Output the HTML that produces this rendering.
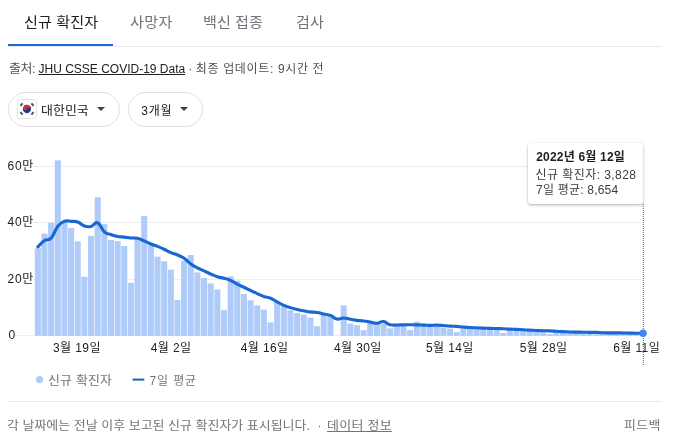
<!DOCTYPE html>
<html lang="ko"><head><meta charset="utf-8"><title>COVID-19</title>
<style>
html,body{margin:0;padding:0;background:#fff;}
body{width:684px;height:438px;position:relative;overflow:hidden;font-family:'Liberation Sans','Noto Sans CJK KR',sans-serif;color:#202124;}
.abs{position:absolute;white-space:nowrap;}
.t{position:absolute;white-space:nowrap;line-height:40px;}
.ul{left:8px;top:44px;width:105px;height:2px;background:#1a69d4;}
.hr{left:8px;height:1px;background:#e8eaed;width:654px;}
.pill{top:92px;height:33px;border:1px solid #e0e0e0;border-radius:18px;box-sizing:content-box;}
.arrow{position:absolute;width:0;height:0;border-left:4.2px solid transparent;border-right:4.2px solid transparent;border-top:4.5px solid #3c4043;top:107px;}
.tip{left:528px;top:143px;width:115px;height:60.5px;background:#fff;border-radius:3px;box-shadow:0 1px 3px rgba(0,0,0,.32);}
</style></head><body>
<div class="abs ul"></div>
<div class="abs hr" style="top:46px"></div>
<div class="t" style="left:188.5px;top:48.7px;font-size:12px;color:#4d5156">·</div>
<div class="abs pill" style="left:8px;width:110px"></div>
<div class="abs pill" style="left:128px;width:73px"></div>
<svg class="abs" style="left:17px;top:99px" width="20" height="20" viewBox="0 0 20 20"><rect x="0.5" y="0.5" width="19" height="19" rx="2" fill="#fff" stroke="#e4e4e4"/><g transform="rotate(25 10 10)"><circle cx="10" cy="10" r="4" fill="#0f4095"/><path d="M6 10a4 4 0 0 1 8 0a2 2 0 0 0 -4 0a2 2 0 0 1 -4 0z" fill="#cd2e3a"/></g><g stroke="#555" stroke-width="2"><path d="M3.4 6.9l2.2-2.6M3.4 13.1l2.2 2.6M16.6 6.9l-2.2-2.6M16.6 13.1l-2.2 2.6"/></g></svg>
<i class="arrow" style="left:96.8px"></i>
<i class="arrow" style="left:179.5px"></i>
<svg class="abs" style="left:0;top:0" width="684" height="438" viewBox="0 0 684 438">
<g stroke="#eeeeee" stroke-width="1"><line x1="33.5" x2="643" y1="166.5" y2="166.5"/><line x1="33.5" x2="643" y1="222.5" y2="222.5"/><line x1="33.5" x2="643" y1="279.5" y2="279.5"/><line x1="14.5" x2="643" y1="335.5" y2="335.5"/></g>
<g fill="#aecbfa"><rect x="34.83" y="248.38" width="6.05" height="87.52"/><rect x="41.47" y="233.54" width="6.05" height="102.36"/><rect x="48.12" y="222.69" width="6.05" height="113.21"/><rect x="54.77" y="160.37" width="6.05" height="175.53"/><rect x="61.42" y="220.92" width="6.05" height="114.98"/><rect x="68.06" y="228.14" width="6.05" height="107.76"/><rect x="74.71" y="241.34" width="6.05" height="94.56"/><rect x="81.36" y="276.81" width="6.05" height="59.09"/><rect x="88.01" y="235.90" width="6.05" height="100.00"/><rect x="94.66" y="197.23" width="6.05" height="138.67"/><rect x="101.30" y="224.14" width="6.05" height="111.76"/><rect x="107.95" y="239.99" width="6.05" height="95.91"/><rect x="114.60" y="241.10" width="6.05" height="94.80"/><rect x="121.25" y="246.03" width="6.05" height="89.87"/><rect x="127.90" y="283.01" width="6.05" height="52.89"/><rect x="134.54" y="237.72" width="6.05" height="98.18"/><rect x="141.19" y="215.94" width="6.05" height="119.96"/><rect x="147.84" y="245.29" width="6.05" height="90.61"/><rect x="154.49" y="256.72" width="6.05" height="79.18"/><rect x="161.14" y="261.27" width="6.05" height="74.63"/><rect x="167.78" y="269.71" width="6.05" height="66.19"/><rect x="174.43" y="299.97" width="6.05" height="35.93"/><rect x="181.08" y="260.72" width="6.05" height="75.18"/><rect x="187.73" y="255.02" width="6.05" height="80.88"/><rect x="194.38" y="272.39" width="6.05" height="63.51"/><rect x="201.02" y="277.89" width="6.05" height="58.01"/><rect x="207.67" y="283.48" width="6.05" height="52.42"/><rect x="214.32" y="289.43" width="6.05" height="46.47"/><rect x="220.97" y="310.21" width="6.05" height="25.69"/><rect x="227.62" y="276.36" width="6.05" height="59.54"/><rect x="234.26" y="280.69" width="6.05" height="55.21"/><rect x="240.91" y="293.96" width="6.05" height="41.94"/><rect x="247.56" y="300.35" width="6.05" height="35.55"/><rect x="254.21" y="305.41" width="6.05" height="30.49"/><rect x="260.86" y="309.63" width="6.05" height="26.27"/><rect x="267.50" y="322.41" width="6.05" height="13.49"/><rect x="274.15" y="302.42" width="6.05" height="33.48"/><rect x="280.80" y="304.45" width="6.05" height="31.45"/><rect x="287.45" y="310.23" width="6.05" height="25.67"/><rect x="294.10" y="313.00" width="6.05" height="22.90"/><rect x="300.75" y="314.59" width="6.05" height="21.31"/><rect x="307.39" y="317.62" width="6.05" height="18.28"/><rect x="314.04" y="326.19" width="6.05" height="9.71"/><rect x="320.69" y="313.20" width="6.05" height="22.70"/><rect x="327.34" y="314.21" width="6.05" height="21.69"/><rect x="340.63" y="305.38" width="6.05" height="30.52"/><rect x="347.28" y="323.67" width="6.05" height="12.23"/><rect x="353.93" y="325.23" width="6.05" height="10.67"/><rect x="360.58" y="330.23" width="6.05" height="5.67"/><rect x="367.23" y="321.46" width="6.05" height="14.44"/><rect x="373.87" y="322.04" width="6.05" height="13.86"/><rect x="380.52" y="323.95" width="6.05" height="11.95"/><rect x="387.17" y="328.35" width="6.05" height="7.55"/><rect x="393.82" y="324.71" width="6.05" height="11.19"/><rect x="400.47" y="324.58" width="6.05" height="11.32"/><rect x="407.11" y="330.08" width="6.05" height="5.82"/><rect x="413.76" y="321.79" width="6.05" height="14.11"/><rect x="420.41" y="323.49" width="6.05" height="12.41"/><rect x="427.06" y="325.76" width="6.05" height="10.14"/><rect x="433.71" y="326.73" width="6.05" height="9.17"/><rect x="440.35" y="327.54" width="6.05" height="8.36"/><rect x="447.00" y="328.71" width="6.05" height="7.19"/><rect x="453.65" y="332.14" width="6.05" height="3.76"/><rect x="460.30" y="325.98" width="6.05" height="9.92"/><rect x="466.95" y="327.04" width="6.05" height="8.86"/><rect x="473.59" y="327.95" width="6.05" height="7.95"/><rect x="480.24" y="328.80" width="6.05" height="7.10"/><rect x="486.89" y="329.27" width="6.05" height="6.63"/><rect x="493.54" y="330.45" width="6.05" height="5.45"/><rect x="500.19" y="333.08" width="6.05" height="2.82"/><rect x="506.83" y="328.46" width="6.05" height="7.44"/><rect x="513.48" y="329.13" width="6.05" height="6.77"/><rect x="520.13" y="330.58" width="6.05" height="5.32"/><rect x="526.78" y="331.22" width="6.05" height="4.68"/><rect x="533.42" y="331.83" width="6.05" height="4.07"/><rect x="540.07" y="332.33" width="6.05" height="3.57"/><rect x="546.72" y="334.17" width="6.05" height="1.73"/><rect x="553.37" y="331.04" width="6.05" height="4.86"/><rect x="560.02" y="331.44" width="6.05" height="4.46"/><rect x="566.66" y="333.10" width="6.05" height="2.80"/><rect x="573.31" y="332.36" width="6.05" height="3.54"/><rect x="579.96" y="332.50" width="6.05" height="3.40"/><rect x="586.61" y="333.12" width="6.05" height="2.78"/><rect x="593.26" y="334.48" width="6.05" height="1.42"/><rect x="599.90" y="334.16" width="6.05" height="1.74"/><rect x="606.55" y="332.13" width="6.05" height="3.77"/><rect x="613.20" y="332.46" width="6.05" height="3.44"/><rect x="619.85" y="333.27" width="6.05" height="2.63"/><rect x="626.50" y="333.52" width="6.05" height="2.38"/><rect x="633.14" y="333.81" width="6.05" height="2.09"/><rect x="639.79" y="334.82" width="6.05" height="1.08"/></g>
<path d="M37.85,246.94C39.31,245.52 41.57,242.43 44.50,240.50C47.42,238.56 48.22,241.27 51.15,238.15C54.07,235.02 54.87,230.00 57.79,226.29C60.72,222.58 61.52,222.37 64.44,221.28C67.37,220.20 68.16,221.22 71.09,221.37C74.02,221.53 74.81,220.97 77.74,222.00C80.66,223.03 81.46,225.09 84.39,226.06C87.31,227.03 88.11,227.12 91.03,226.40C93.96,225.67 94.76,221.56 97.68,222.76C100.61,223.96 101.40,229.27 104.33,231.87C107.26,234.47 108.05,233.59 110.98,234.59C113.90,235.60 114.70,235.89 117.63,236.44C120.55,237.00 121.35,236.77 124.27,237.11C127.20,237.46 128.00,237.75 130.92,238.00C133.85,238.25 134.64,237.61 137.57,238.26C140.50,238.90 141.29,239.68 144.22,240.93C147.14,242.18 147.94,242.76 150.87,243.95C153.79,245.14 154.59,245.18 157.51,246.34C160.44,247.50 161.24,247.85 164.16,249.23C167.09,250.60 167.88,251.33 170.81,252.61C173.74,253.89 174.53,253.78 177.46,255.03C180.38,256.29 181.18,256.37 184.11,258.32C187.03,260.27 187.83,261.82 190.75,263.90C193.68,265.98 194.48,266.25 197.40,267.77C200.33,269.29 201.12,269.43 204.05,270.80C206.98,272.16 207.77,272.65 210.70,273.97C213.62,275.29 214.42,275.84 217.35,276.79C220.27,277.73 221.07,277.44 223.99,278.25C226.92,279.06 227.72,279.19 230.64,280.48C233.57,281.78 234.36,282.67 237.29,284.15C240.22,285.64 241.01,285.85 243.94,287.23C246.86,288.62 247.66,289.05 250.59,290.44C253.51,291.84 254.31,292.25 257.23,293.58C260.16,294.90 260.96,295.44 263.88,296.46C266.81,297.48 267.60,297.00 270.53,298.20C273.46,299.41 274.25,300.36 277.18,301.93C280.10,303.49 280.90,304.06 283.83,305.32C286.75,306.58 287.55,306.74 290.47,307.64C293.40,308.55 294.20,308.77 297.12,309.45C300.05,310.14 300.84,310.22 303.77,310.76C306.70,311.30 307.49,311.53 310.42,311.90C313.34,312.27 314.14,311.99 317.07,312.44C319.99,312.90 320.79,313.34 323.71,313.98C326.64,314.63 327.44,314.26 330.36,315.38C333.29,316.49 334.08,318.48 337.01,319.04C339.94,319.61 340.73,317.91 343.66,317.95C346.58,318.00 347.38,318.73 350.31,319.25C353.23,319.78 354.03,319.97 356.95,320.34C359.88,320.71 360.68,320.53 363.60,320.92C366.53,321.30 367.32,321.59 370.25,322.10C373.18,322.60 373.97,323.34 376.90,323.21C379.82,323.09 380.62,321.16 383.55,321.51C386.47,321.85 387.27,324.03 390.19,324.79C393.12,325.54 393.92,324.93 396.84,324.94C399.77,324.95 400.56,324.87 403.49,324.85C406.42,324.82 407.21,324.82 410.14,324.82C413.06,324.83 413.86,324.82 416.79,324.87C419.71,324.93 420.51,324.98 423.43,325.08C426.36,325.18 427.16,325.33 430.08,325.34C433.01,325.34 433.80,325.07 436.73,325.11C439.66,325.15 440.45,325.29 443.38,325.51C446.30,325.73 447.10,325.91 450.03,326.10C452.95,326.30 453.75,326.20 456.67,326.40C459.60,326.59 460.40,326.75 463.32,326.99C466.25,327.24 467.04,327.32 469.97,327.50C472.90,327.68 473.69,327.68 476.62,327.82C479.54,327.95 480.34,327.99 483.27,328.11C486.19,328.23 486.99,328.25 489.91,328.36C492.84,328.47 493.64,328.52 496.56,328.61C499.49,328.69 500.28,328.63 503.21,328.74C506.14,328.85 506.93,328.95 509.86,329.09C512.78,329.24 513.58,329.24 516.51,329.39C519.43,329.54 520.23,329.61 523.15,329.77C526.08,329.93 526.88,329.96 529.80,330.11C532.73,330.27 533.52,330.34 536.45,330.48C539.38,330.62 540.17,330.65 543.10,330.75C546.02,330.84 546.82,330.79 549.75,330.90C552.67,331.02 553.47,331.12 556.39,331.27C559.32,331.42 560.12,331.45 563.04,331.60C565.97,331.75 566.76,331.85 569.69,331.96C572.62,332.08 573.41,332.07 576.34,332.12C579.26,332.18 580.06,332.17 582.99,332.22C585.91,332.26 586.71,332.30 589.63,332.33C592.56,332.37 593.36,332.27 596.28,332.38C599.21,332.49 600.00,332.70 602.93,332.82C605.86,332.94 606.65,332.92 609.58,332.92C612.50,332.92 613.30,332.82 616.23,332.83C619.15,332.84 619.95,332.90 622.87,332.96C625.80,333.02 626.60,333.05 629.52,333.10C632.45,333.16 633.24,333.17 636.17,333.20C639.10,333.24 641.36,333.24 642.82,333.26" fill="none" stroke="#1967d2" stroke-width="3.1" stroke-linejoin="round" stroke-linecap="round"/>
<line x1="643.3" x2="643.3" y1="204" y2="366" stroke="#5f6368" stroke-width="1" stroke-dasharray="1,1"/>
<circle cx="643.1" cy="333.3" r="3.7" fill="#4285f4"/>
<circle cx="39.5" cy="379.6" r="3.6" fill="#aecbfa"/>
<rect x="132.6" y="378.6" width="11.7" height="2" fill="#1a5fc4"/>
</svg>
<div class="abs hr" style="top:401px"></div>
<div class="t" style="left:317.5px;top:405.8px;font-size:12px;color:#70757a">·</div>
<div class="abs tip"></div>
<div class="t" style="left:23.9px;top:2.3px;font-size:14px;font-weight:400;color:#202124;letter-spacing:0.07px;transform-origin:0 0;transform:scaleX(1.08);">신규 확진자</div>
<div class="t" style="left:129.6px;top:2.3px;font-size:14px;font-weight:400;color:#70757a;letter-spacing:0.27px;transform-origin:0 0;transform:scaleX(1.08);">사망자</div>
<div class="t" style="left:203.4px;top:2.3px;font-size:14px;font-weight:400;color:#70757a;letter-spacing:0.02px;transform-origin:0 0;transform:scaleX(1.08);">백신 접종</div>
<div class="t" style="left:295.6px;top:2.3px;font-size:14px;font-weight:400;color:#70757a;letter-spacing:0.10px;transform-origin:0 0;transform:scaleX(1.08);">검사</div>
<div class="t" style="left:8.9px;top:48.6px;font-size:12px;font-weight:400;color:#4d5156;letter-spacing:-0.34px;transform-origin:0 0;transform:scaleX(1.08);">출처:</div>
<div class="t" style="left:38.5px;top:48.6px;font-size:12px;font-weight:400;color:#202124;letter-spacing:0.00px;text-decoration:underline;">JHU CSSE COVID-19 Data</div>
<div class="t" style="left:195.8px;top:48.6px;font-size:12px;font-weight:400;color:#4d5156;letter-spacing:0.65px;">최종 업데이트: 9시간 전</div>
<div class="t" style="left:41.1px;top:91.1px;font-size:12px;font-weight:400;color:#202124;letter-spacing:0.02px;transform-origin:0 0;transform:scaleX(1.08);">대한민국</div>
<div class="t" style="left:141.2px;top:91.1px;font-size:12px;font-weight:400;color:#202124;letter-spacing:0.83px;">3개월</div>
<div class="t" style="left:7.6px;top:145.9px;font-size:12px;font-weight:400;color:#202124;letter-spacing:0.65px;">60만</div>
<div class="t" style="left:7.6px;top:202.4px;font-size:12px;font-weight:400;color:#202124;letter-spacing:0.65px;">40만</div>
<div class="t" style="left:7.6px;top:258.9px;font-size:12px;font-weight:400;color:#202124;letter-spacing:0.65px;">20만</div>
<div class="t" style="left:8.4px;top:315.3px;font-size:12px;font-weight:400;color:#202124;letter-spacing:0.00px;">0</div>
<div class="t" style="left:53.0px;top:327.5px;font-size:12px;font-weight:400;color:#202124;letter-spacing:0.40px;">3월 19일</div>
<div class="t" style="left:150.8px;top:327.5px;font-size:12px;font-weight:400;color:#202124;letter-spacing:0.40px;">4월 2일</div>
<div class="t" style="left:240.7px;top:327.5px;font-size:12px;font-weight:400;color:#202124;letter-spacing:0.40px;">4월 16일</div>
<div class="t" style="left:333.9px;top:327.5px;font-size:12px;font-weight:400;color:#202124;letter-spacing:0.40px;">4월 30일</div>
<div class="t" style="left:425.9px;top:327.5px;font-size:12px;font-weight:400;color:#202124;letter-spacing:0.40px;">5월 14일</div>
<div class="t" style="left:519.7px;top:327.5px;font-size:12px;font-weight:400;color:#202124;letter-spacing:0.40px;">5월 28일</div>
<div class="t" style="left:613.2px;top:327.5px;font-size:12px;font-weight:400;color:#202124;letter-spacing:0.40px;">6월 11일</div>
<div class="t" style="left:47.7px;top:361.2px;font-size:12px;font-weight:400;color:#70757a;letter-spacing:0.14px;transform-origin:0 0;transform:scaleX(1.08);">신규 확진자</div>
<div class="t" style="left:149.6px;top:361.2px;font-size:12px;font-weight:400;color:#70757a;letter-spacing:0.85px;">7일 평균</div>
<div class="t" style="left:7.2px;top:405.9px;font-size:12px;font-weight:400;color:#70757a;letter-spacing:-0.00px;transform-origin:0 0;transform:scaleX(1.08);">각 날짜에는 전날 이후 보고된 신규 확진자가 표시됩니다.</div>
<div class="t" style="left:327.2px;top:405.9px;font-size:12px;font-weight:400;color:#70757a;letter-spacing:0.26px;text-decoration:underline;transform-origin:0 0;transform:scaleX(1.08);">데이터 정보</div>
<div class="t" style="left:624.2px;top:405.9px;font-size:12px;font-weight:400;color:#70757a;letter-spacing:0.35px;transform-origin:0 0;transform:scaleX(1.08);">피드백</div>
<div class="t" style="left:536.2px;top:137.3px;font-size:12px;font-weight:700;color:#202124;letter-spacing:0.20px;">2022년 6월 12일</div>
<div class="t" style="left:535.5px;top:154.6px;font-size:12px;font-weight:400;color:#3c4043;letter-spacing:0.44px;">신규 확진자: 3,828</div>
<div class="t" style="left:536.0px;top:170.0px;font-size:12px;font-weight:400;color:#3c4043;letter-spacing:0.21px;">7일 평균: 8,654</div>
</body></html>
